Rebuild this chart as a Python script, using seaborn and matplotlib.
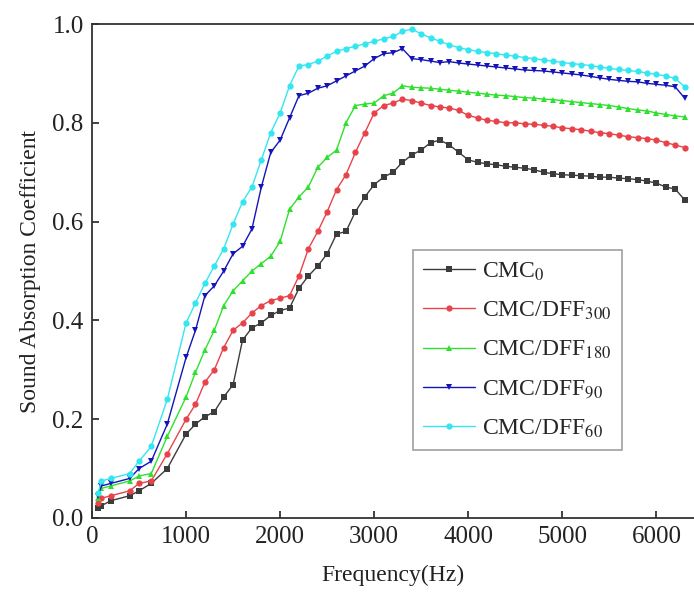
import numpy as np
import pandas as pd
import seaborn as sns
import matplotlib
matplotlib.use('Agg')
import matplotlib.pyplot as plt

# frequencies (Hz)
freq = [63, 100, 200, 400, 500, 630, 800] + list(range(1000, 6400, 100))

cmc0 = [0.020, 0.025, 0.035, 0.045, 0.055, 0.070, 0.100,
        0.170, 0.190, 0.205, 0.215, 0.245, 0.270, 0.360, 0.385, 0.395, 0.410,
        0.420, 0.425, 0.465, 0.490, 0.510, 0.535, 0.575, 0.580, 0.620, 0.650,
        0.675, 0.690, 0.700, 0.720, 0.735, 0.745, 0.760, 0.765, 0.755, 0.740,
        0.725, 0.720, 0.717, 0.715, 0.712, 0.710, 0.708, 0.705, 0.700, 0.697,
        0.695, 0.694, 0.693, 0.692, 0.690, 0.690, 0.688, 0.687, 0.685, 0.682,
        0.678, 0.670, 0.666, 0.644]
dff300 = [0.030, 0.040, 0.045, 0.055, 0.070, 0.075, 0.130,
          0.200, 0.230, 0.275, 0.300, 0.345, 0.380, 0.395, 0.415, 0.430, 0.440,
          0.445, 0.450, 0.490, 0.545, 0.580, 0.620, 0.665, 0.695, 0.740, 0.780,
          0.820, 0.835, 0.840, 0.848, 0.845, 0.840, 0.835, 0.832, 0.830, 0.825,
          0.815, 0.810, 0.805, 0.803, 0.800, 0.800, 0.798, 0.797, 0.795, 0.793,
          0.790, 0.788, 0.786, 0.783, 0.780, 0.778, 0.775, 0.772, 0.770, 0.768,
          0.765, 0.760, 0.755, 0.750]
dff180 = [0.040, 0.060, 0.065, 0.075, 0.085, 0.090, 0.165,
          0.245, 0.295, 0.340, 0.380, 0.430, 0.460, 0.480, 0.500, 0.515, 0.530,
          0.560, 0.625, 0.650, 0.670, 0.710, 0.730, 0.745, 0.800, 0.835, 0.838,
          0.840, 0.855, 0.860, 0.875, 0.872, 0.871, 0.870, 0.868, 0.866, 0.864,
          0.862, 0.860, 0.858, 0.856, 0.855, 0.853, 0.851, 0.850, 0.848, 0.847,
          0.845, 0.843, 0.841, 0.839, 0.837, 0.835, 0.832, 0.829, 0.826, 0.824,
          0.820, 0.817, 0.814, 0.812]
dff90 = [0.045, 0.065, 0.070, 0.080, 0.100, 0.115, 0.190,
         0.325, 0.380, 0.450, 0.470, 0.500, 0.535, 0.550, 0.585, 0.670, 0.740,
         0.765, 0.810, 0.855, 0.860, 0.870, 0.875, 0.885, 0.895, 0.905, 0.915,
         0.930, 0.940, 0.942, 0.950, 0.930, 0.928, 0.925, 0.922, 0.924, 0.921,
         0.919, 0.917, 0.915, 0.913, 0.911, 0.909, 0.907, 0.906, 0.905, 0.903,
         0.901, 0.899, 0.897, 0.894, 0.891, 0.888, 0.886, 0.884, 0.883, 0.880,
         0.878, 0.876, 0.873, 0.850]
dff60 = [0.050, 0.075, 0.080, 0.090, 0.115, 0.145, 0.240,
         0.395, 0.435, 0.475, 0.510, 0.545, 0.595, 0.640, 0.670, 0.725, 0.780,
         0.820, 0.875, 0.915, 0.918, 0.925, 0.935, 0.945, 0.950, 0.955, 0.960,
         0.965, 0.970, 0.975, 0.985, 0.990, 0.980, 0.972, 0.965, 0.958, 0.952,
         0.948, 0.945, 0.942, 0.940, 0.937, 0.935, 0.932, 0.930, 0.927, 0.925,
         0.922, 0.920, 0.918, 0.916, 0.913, 0.910, 0.908, 0.906, 0.904, 0.901,
         0.898, 0.895, 0.890, 0.873]

labels = [r'CMC$_{0}$', r'CMC/DFF$_{300}$', r'CMC/DFF$_{180}$',
          r'CMC/DFF$_{90}$', r'CMC/DFF$_{60}$']
series = [cmc0, dff300, dff180, dff90, dff60]
colors = ['#3c3c3c', '#e8434a', '#2fe02f', '#1414b8', '#34e6f0']
markers = ['s', 'o', '^', 'v', 'o']

rows = []
for lab, vals in zip(labels, series):
    for f, v in zip(freq, vals):
        rows.append((f, v, lab))
df = pd.DataFrame(rows, columns=['freq', 'alpha', 'sample'])

sns.set_style('white')
plt.rcParams['font.family'] = ['Liberation Serif', 'DejaVu Serif']
plt.rcParams['mathtext.fontset'] = 'stix'

fig = plt.figure(figsize=(6.94, 6.04), dpi=100)
ax = fig.add_axes([0.1326, 0.1424, 0.8674, 0.8178])

sns.lineplot(data=df, x='freq', y='alpha', hue='sample', style='sample',
             palette=dict(zip(labels, colors)), markers=dict(zip(labels, markers)),
             dashes=False, markersize=4.5, linewidth=1.0, markeredgewidth=0,
             ax=ax, legend=True)

ax.set_xlim(0, 6400)
ax.set_ylim(0, 1.0)
ax.set_xticks([0, 1000, 2000, 3000, 4000, 5000, 6000])
ax.set_yticks([0.0, 0.2, 0.4, 0.6, 0.8, 1.0])
ax.set_yticklabels(['0.0', '0.2', '0.4', '0.6', '0.8', '1.0'])
ax.tick_params(direction='in', length=5, width=1.2, labelsize=18, colors='#222222',
               bottom=True, left=True, pad=6)
for s in ['left', 'bottom', 'top']:
    ax.spines[s].set_color('#333333')
    ax.spines[s].set_linewidth(1.3)
ax.spines['right'].set_visible(False)
ax.set_xlabel('Frequency(Hz)', fontsize=17, color='#222222', labelpad=12)
ax.set_ylabel('Sound Absorption Coefficient', fontsize=17, color='#222222', labelpad=8)

handles, labs = ax.get_legend_handles_labels()
leg = ax.legend(handles, labs, loc='upper left', bbox_to_anchor=(0.513, 0.567),
                fontsize=17, frameon=True, fancybox=False, edgecolor='#888888',
                handlelength=2.2, handletextpad=0.3, borderpad=0.45, labelspacing=0.72)
leg.get_frame().set_linewidth(1.2)

fig.savefig('out.png', dpi=100)
